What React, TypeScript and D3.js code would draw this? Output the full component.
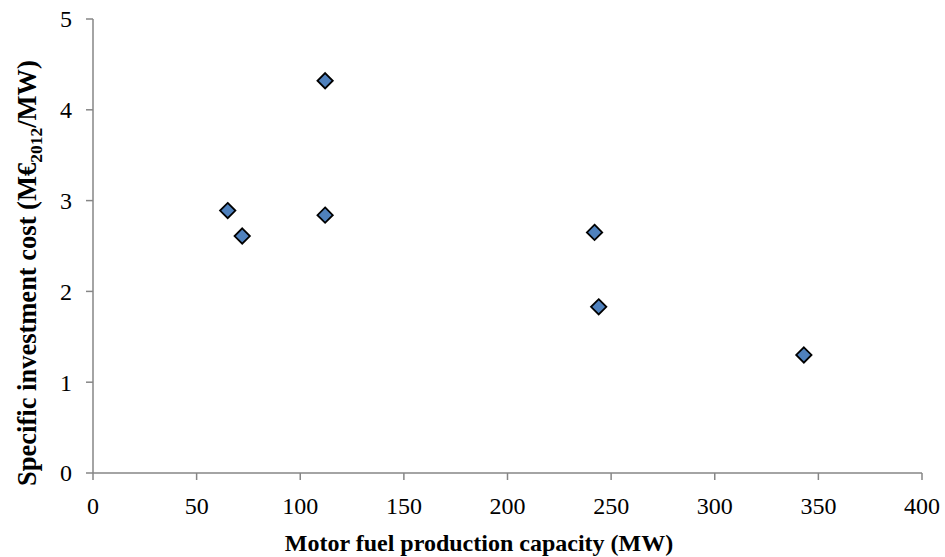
import React from "react";
import * as d3 from "d3";

const capacity = [65, 72, 112, 112, 242, 244, 343];
const cost = [2.89, 2.61, 4.32, 2.84, 2.65, 1.83, 1.3];
const xTicks = [0, 50, 100, 150, 200, 250, 300, 350, 400];
const yTicks = [0, 1, 2, 3, 4, 5];

const W = 945;
const H = 557;
const margin = { left: 93, right: 23, top: 19, bottom: 84 };

const font = "'Liberation Serif', 'Times New Roman', serif";
const axisColor = "#868686";

export default function App() {
  const x = d3.scaleLinear().domain([0, 400]).range([margin.left, W - margin.right]);
  const y = d3.scaleLinear().domain([0, 5]).range([H - margin.bottom, margin.top]);
  const diamond = d3.symbol().type(d3.symbolDiamond2).size(150)();

  return (
    <svg width={W} height={H} style={{ position: "absolute", left: 0, top: 0 }}>
      <rect width={W} height={H} fill="#fff" />
      {/* axes */}
      <line x1={x(0)} x2={x(0)} y1={y(0)} y2={y(5)} stroke={axisColor} strokeWidth={1.5} />
      <line x1={x(0)} x2={x(400)} y1={y(0)} y2={y(0)} stroke={axisColor} strokeWidth={1.5} />
      {yTicks.map((t) => (
        <g key={"y" + t}>
          <line x1={x(0) - 7} x2={x(0)} y1={y(t)} y2={y(t)} stroke={axisColor} strokeWidth={1.5} />
          <text x={x(0) - 21} y={y(t)} dy="0.35em" textAnchor="end" fontFamily={font} fontSize={24}>
            {t}
          </text>
        </g>
      ))}
      {xTicks.map((t) => (
        <g key={"x" + t}>
          <line x1={x(t)} x2={x(t)} y1={y(0)} y2={y(0) + 7} stroke={axisColor} strokeWidth={1.5} />
          <text x={x(t)} y={y(0) + 41} textAnchor="middle" fontFamily={font} fontSize={24}>
            {t}
          </text>
        </g>
      ))}
      {/* points */}
      {capacity.map((c, i) => (
        <path
          key={i}
          d={diamond}
          transform={`translate(${x(c)},${y(cost[i])})`}
          fill="#4F81BD"
          stroke="#000"
          strokeWidth={1.8}
        />
      ))}
      {/* titles */}
      <text x={479} y={551} textAnchor="middle" fontFamily={font} fontSize={24} fontWeight="bold">
        Motor fuel production capacity (MW)
      </text>
      <text
        transform={`translate(36,273) rotate(-90)`}
        textAnchor="middle"
        fontFamily={font}
        fontSize={26.5}
        fontWeight="bold"
      >
        Specific investment cost (M€
        <tspan dy="6" fontSize={17.5}>2012</tspan>
        <tspan dy="-6">/MW)</tspan>
      </text>
    </svg>
  );
}
